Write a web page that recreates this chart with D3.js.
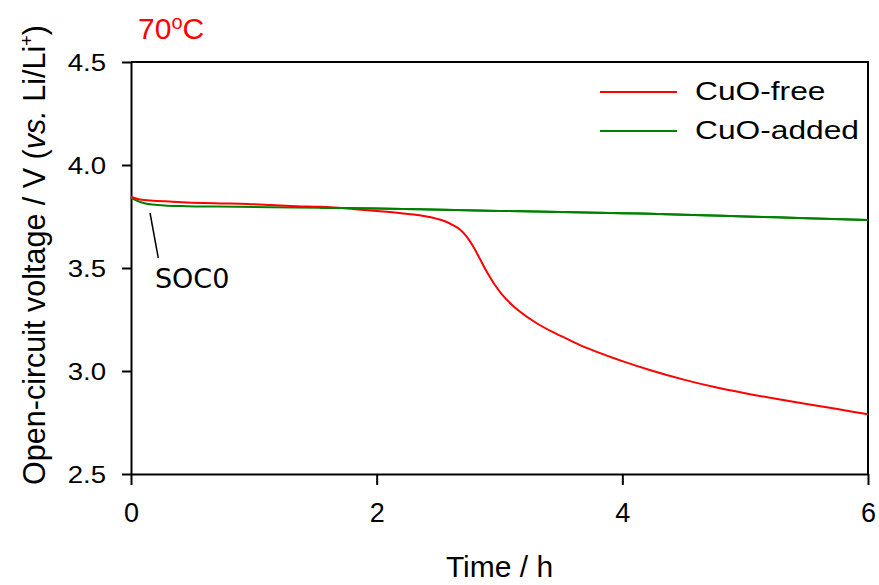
<!DOCTYPE html>
<html><head><meta charset="utf-8">
<script src="https://cdn.jsdelivr.net/npm/d3@7"></script>
<style>body{margin:0;background:#fff}svg{display:block}text{font-family:"Liberation Sans",Arial,sans-serif}</style>
</head><body>
<script>
// ---- data ----
const timeFree  = [0, 0.07, 0.34, 0.68, 0.95, 1.14, 1.35, 1.54, 1.8, 2.0, 2.2, 2.35, 2.45, 2.55, 2.62, 2.68, 2.73, 2.78, 2.84, 2.90, 2.96, 3.03, 3.10, 3.165, 3.30, 3.44, 3.57, 3.71, 3.91, 4.0, 4.25, 4.5, 4.75, 5.0, 5.25, 5.5, 5.75, 6.0];
const voltFree  = [3.846, 3.833, 3.822, 3.814, 3.811, 3.806, 3.800, 3.797, 3.787, 3.777, 3.766, 3.756, 3.745, 3.728, 3.708, 3.686, 3.655, 3.61, 3.545, 3.478, 3.42, 3.365, 3.322, 3.289, 3.233, 3.187, 3.15, 3.112, 3.067, 3.048, 3.0, 2.958, 2.922, 2.892, 2.865, 2.84, 2.815, 2.79];
const timeAdded = [0, 0.05, 0.11, 0.21, 0.45, 0.70, 1.13, 1.54, 2.0, 2.35, 3.0, 3.5, 4.0, 4.5, 5.0, 5.5, 6.0];
const voltAdded = [3.840, 3.826, 3.814, 3.806, 3.800, 3.798, 3.795, 3.793, 3.789, 3.785, 3.777, 3.772, 3.766, 3.759, 3.750, 3.742, 3.733];
const seriesNames = ["CuO-free", "CuO-added"];
const seriesColors = ["#ff0000", "#008000"];
const xTicks = [0, 2, 4, 6];
const yTicks = [2.5, 3.0, 3.5, 4.0, 4.5];
const socPointerT = [0.155, 0.222];
const socPointerV = [3.767, 3.549];
const socLabel = {text: "SOC0", t: 0.195, v: 3.403};

const W = 879, H = 585;
const svg = d3.select("body").append("svg").attr("width", W).attr("height", H);
const x = d3.scaleLinear().domain([0, 6]).range([131, 868]);
const y = d3.scaleLinear().domain([2.5, 4.5]).range([474, 62]);

// frame (top + right)
svg.append("path")
  .attr("d", `M${x(0)},${y(4.5)}H${x(6)}V${y(2.5)}`)
  .attr("fill", "none").attr("stroke", "#000").attr("stroke-width", 2);

// axes
const gx = svg.append("g").attr("transform", `translate(0,${y(2.5)})`)
  .call(d3.axisBottom(x).tickValues(xTicks).tickFormat(d3.format("d")).tickSize(11).tickSizeOuter(0).tickPadding(18));
const gy = svg.append("g").attr("transform", `translate(${x(0)},0)`)
  .call(d3.axisLeft(y).tickValues(yTicks).tickFormat(d3.format(".1f")).tickSize(9).tickSizeOuter(0));
[gx, gy].forEach(g => {
  g.select(".domain").attr("stroke-width", 2);
  g.selectAll(".tick line").attr("stroke-width", 2);
});
gx.selectAll(".tick text").attr("font-size", 27).attr("fill", "#000")
  .style("font-family", '"Liberation Sans",Arial,sans-serif');
gy.selectAll(".tick text").attr("font-size", 23).attr("fill", "#000")
  .style("font-family", '"Liberation Sans",Arial,sans-serif')
  .attr("x", -25 / 1.2).attr("dy", "0.38em").attr("transform", "scale(1.2,1)");

// lines
const line = d3.line().x(d => x(d[0])).y(d => y(d[1])).curve(d3.curveMonotoneX);
const dataFree = timeFree.map((t, i) => [t, voltFree[i]]);
const dataAdded = timeAdded.map((t, i) => [t, voltAdded[i]]);
svg.append("path").datum(dataAdded).attr("d", line).attr("fill", "none")
  .attr("stroke", seriesColors[1]).attr("stroke-width", 2);
svg.append("path").datum(dataFree).attr("d", line).attr("fill", "none")
  .attr("stroke", seriesColors[0]).attr("stroke-width", 2);
// green drawn on top where the two curves merge
svg.append("path").datum(dataAdded.filter(d => d[0] >= 1.5)).attr("d", line).attr("fill", "none")
  .attr("stroke", seriesColors[1]).attr("stroke-width", 2);

// SOC0 annotation
svg.append("line")
  .attr("x1", x(socPointerT[0])).attr("y1", y(socPointerV[0]))
  .attr("x2", x(socPointerT[1])).attr("y2", y(socPointerV[1]))
  .attr("stroke", "#000").attr("stroke-width", 1.5);
svg.append("text").attr("x", x(socLabel.t)).attr("y", y(socLabel.v))
  .attr("font-size", 27).style("font-family", '"DejaVu Sans",sans-serif').text(socLabel.text);

// legend
const leg = svg.append("g");
seriesNames.forEach((name, i) => {
  const ly = 92 + i * 39;
  leg.append("line").attr("x1", 600).attr("x2", 677).attr("y1", ly).attr("y2", ly)
    .attr("stroke", seriesColors[i]).attr("stroke-width", 1.8);
  leg.append("text").attr("transform", `translate(695,${ly + 8}) scale(1.22,1)`)
    .attr("font-size", 26).attr("fill", "#000").text(name);
});

// title
const title = svg.append("text").attr("x", 138).attr("y", 39).attr("fill", "#ff0000").attr("font-size", 30);
title.append("tspan").text("70");
title.append("tspan").attr("font-size", 20).attr("dy", -10).text("o");
title.append("tspan").attr("dy", 10).text("C");

// x label
svg.append("text").attr("x", (x(0) + x(6)) / 2).attr("y", 577).attr("text-anchor", "middle")
  .attr("font-size", 30).text("Time / h");

// y label
const yl = svg.append("text").attr("transform", "translate(45,255) rotate(-90)")
  .attr("text-anchor", "middle").attr("font-size", 30.5);
yl.append("tspan").text("Open-circuit voltage / V (");
yl.append("tspan").attr("font-style", "italic").text("vs.");
yl.append("tspan").text(" Li/Li");
yl.append("tspan").attr("font-size", 18).attr("dy", -12).text("+");
yl.append("tspan").attr("dy", 12).text(")");
</script>
</body></html>
